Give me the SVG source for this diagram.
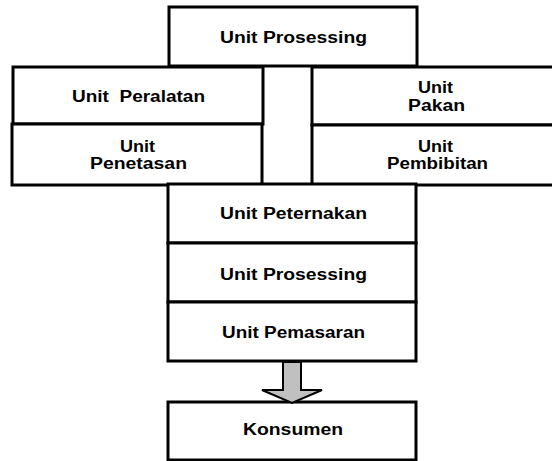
<svg xmlns="http://www.w3.org/2000/svg" width="552" height="461" viewBox="0 0 552 461">
<style>
.box{fill:#fff;stroke:#000;stroke-width:3}
.t{font-family:"Liberation Sans",Arial,sans-serif;font-weight:bold;font-size:16px;fill:#000;text-anchor:middle;white-space:pre}
</style>
<rect width="552" height="461" fill="#fff"/>
<g id="unit-prosessing-top"><rect class="box" x="169" y="7" width="248" height="59"/><text class="t" x="293.5" y="43" textLength="147" lengthAdjust="spacingAndGlyphs">Unit Prosessing</text></g>
<g id="unit-peralatan"><rect class="box" x="13" y="67" width="250" height="57"/><text class="t" x="138.5" y="102" textLength="133" lengthAdjust="spacingAndGlyphs" xml:space="preserve">Unit  Peralatan</text></g>
<g id="unit-penetasan"><rect class="box" x="12" y="124" width="250" height="61"/><text class="t" x="137.5" y="152" textLength="35" lengthAdjust="spacingAndGlyphs">Unit</text><text class="t" x="138.5" y="169" textLength="97" lengthAdjust="spacingAndGlyphs">Penetasan</text></g>
<g id="unit-pakan"><rect class="box" x="312" y="67" width="250" height="58"/><text class="t" x="435.5" y="93" textLength="35" lengthAdjust="spacingAndGlyphs">Unit</text><text class="t" x="436.5" y="111" textLength="57" lengthAdjust="spacingAndGlyphs">Pakan</text></g>
<g id="unit-pembibitan"><rect class="box" x="312" y="125" width="250" height="60"/><text class="t" x="435.5" y="152" textLength="35" lengthAdjust="spacingAndGlyphs">Unit</text><text class="t" x="437.5" y="169" textLength="101" lengthAdjust="spacingAndGlyphs">Pembibitan</text></g>
<g id="unit-peternakan"><rect class="box" x="168" y="184" width="248" height="59"/><text class="t" x="293.5" y="219" textLength="147" lengthAdjust="spacingAndGlyphs">Unit Peternakan</text></g>
<g id="unit-prosessing"><rect class="box" x="168" y="243" width="248" height="59"/><text class="t" x="293.5" y="280" textLength="147" lengthAdjust="spacingAndGlyphs">Unit Prosessing</text></g>
<g id="unit-pemasaran"><rect class="box" x="168" y="302" width="248" height="59"/><text class="t" x="293.5" y="338" textLength="143" lengthAdjust="spacingAndGlyphs">Unit Pemasaran</text></g>
<g id="konsumen"><rect class="box" x="168" y="402" width="248" height="58"/><text class="t" x="293" y="435" textLength="100" lengthAdjust="spacingAndGlyphs">Konsumen</text></g>
<g id="connectors"><polygon points="283,362 301,362 301,390 322,390 292,403 262,390 283,390" fill="#c0c0c0" stroke="#000" stroke-width="2" stroke-linejoin="miter"/></g>
</svg>
